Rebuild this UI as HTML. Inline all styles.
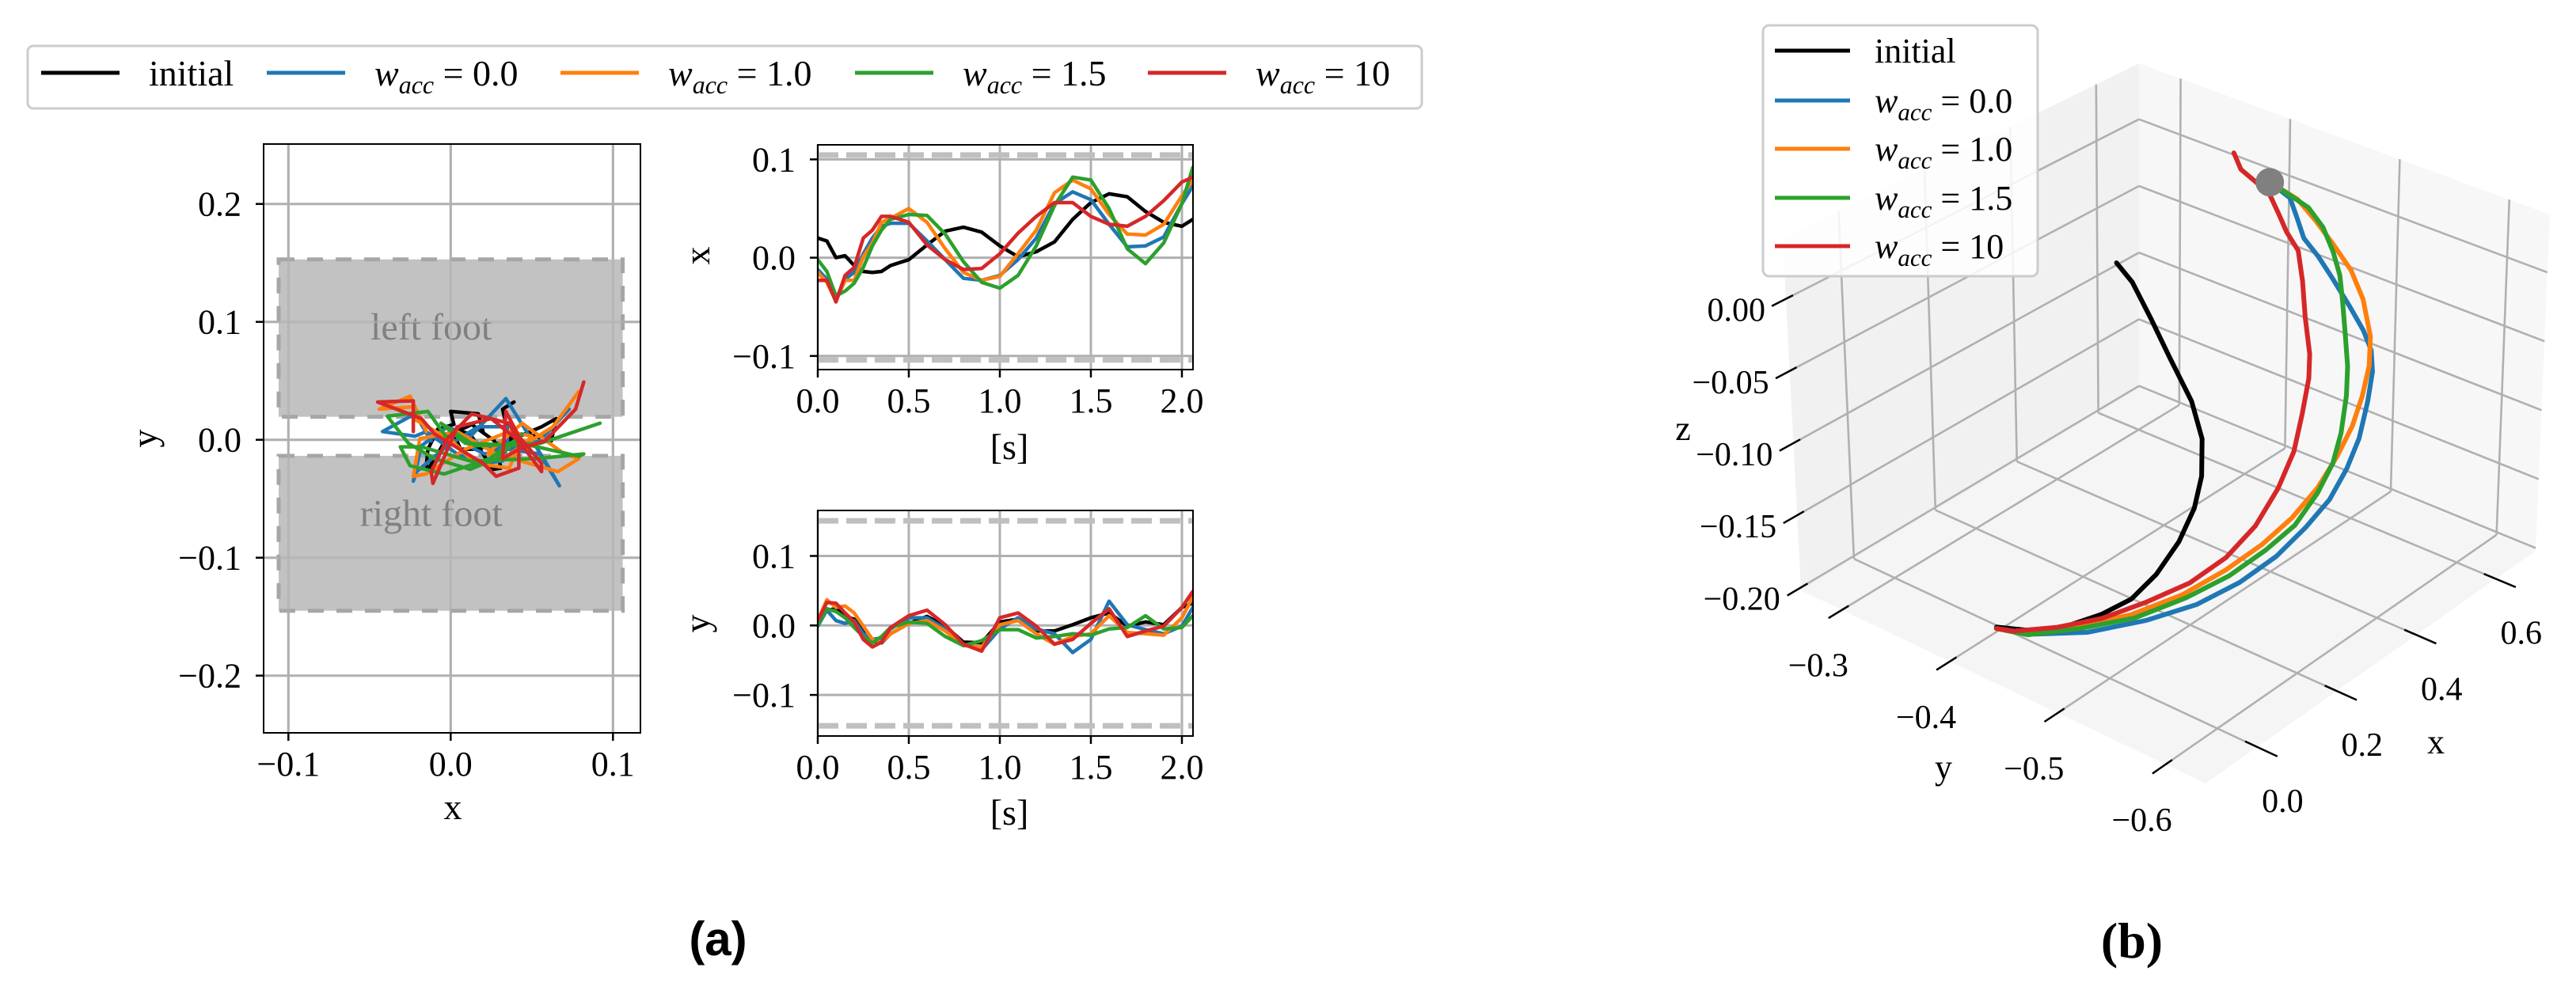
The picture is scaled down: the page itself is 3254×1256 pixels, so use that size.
<!DOCTYPE html>
<html><head><meta charset="utf-8"><title>Trajectories figure</title>
<style>
html,body{margin:0;padding:0;background:#fff;}
svg{display:block;font-family:"Liberation Serif",serif;}
</style></head>
<body>
<svg id="fig" xmlns="http://www.w3.org/2000/svg" width="3254" height="1256" viewBox="0 0 3254 1256">
<rect x="0" y="0" width="3254" height="1256" fill="#fff"/>
<g id="gA"></g>
<g id="gB"></g>
</svg>
<script>
// ---------- data: time series ----------
const tVals = [0,0.05,0.1,0.15,0.2,0.25,0.3,0.35,0.4,0.5,0.6,0.7,0.8,0.9,1.0,1.1,1.2,1.3,1.4,1.5,1.6,1.7,1.8,1.9,2.0,2.06];
const xInitial = [0.020,0.017,0.000,0.002,-0.008,-0.014,-0.015,-0.014,-0.008,-0.002,0.013,0.027,0.031,0.026,0.012,0.001,0.006,0.016,0.039,0.056,0.065,0.062,0.047,0.036,0.032,0.039];
const xW00 = [-0.012,-0.022,-0.042,-0.022,-0.015,0.004,0.020,0.032,0.035,0.035,0.017,-0.002,-0.021,-0.023,-0.018,-0.002,0.020,0.055,0.067,0.059,0.034,0.011,0.012,0.021,0.055,0.073];
const xW10 = [-0.015,-0.025,-0.044,-0.023,-0.023,0.001,0.015,0.036,0.040,0.050,0.036,0.009,-0.015,-0.023,-0.019,0.004,0.028,0.066,0.079,0.070,0.044,0.024,0.023,0.034,0.063,0.079];
const xW15 = [-0.002,-0.014,-0.039,-0.034,-0.026,-0.010,0.012,0.028,0.039,0.044,0.043,0.024,-0.004,-0.025,-0.031,-0.018,0.012,0.053,0.082,0.079,0.050,0.009,-0.006,0.015,0.055,0.092];
const xW100 = [-0.023,-0.023,-0.045,-0.018,-0.010,0.020,0.028,0.042,0.042,0.036,0.013,-0.002,-0.012,-0.011,0.004,0.025,0.042,0.056,0.056,0.042,0.034,0.032,0.042,0.058,0.077,0.082];
const yInitial = [0.007,0.022,0.024,0.013,0.009,-0.008,-0.022,-0.025,-0.012,0.003,0.013,-0.001,-0.024,-0.025,0.005,0.009,-0.008,-0.008,0.001,0.011,0.018,-0.001,0.005,0.001,0.026,0.032];
const yW00 = [-0.001,0.022,0.007,0.003,0.007,-0.012,-0.020,-0.018,-0.005,0.011,0.011,-0.005,-0.027,-0.035,-0.005,0.011,-0.005,-0.012,-0.039,-0.020,0.035,0.001,-0.006,-0.012,-0.001,0.026];
const yW10 = [0.007,0.037,0.026,0.028,0.018,-0.001,-0.020,-0.024,-0.012,0.003,0.007,-0.008,-0.029,-0.031,0.001,0.007,-0.012,-0.027,-0.016,-0.012,0.014,-0.010,-0.012,-0.014,0.011,0.041];
const yW15 = [0.001,0.024,0.020,0.011,-0.003,-0.016,-0.025,-0.016,-0.003,0.005,0.003,-0.016,-0.029,-0.022,-0.006,-0.006,-0.018,-0.016,-0.012,-0.014,-0.005,-0.003,0.014,-0.005,-0.003,0.014];
const yW100 = [0.007,0.033,0.032,0.018,0.005,-0.020,-0.031,-0.024,-0.003,0.014,0.022,0.001,-0.027,-0.037,0.011,0.018,-0.001,-0.027,-0.020,0.003,0.024,-0.016,-0.008,-0.001,0.026,0.049];
const xyTicks = [-0.1,0.0,0.1];
const xyYTicks = [-0.2,-0.1,0.0,0.1,0.2];
const tTicks = [0.0,0.5,1.0,1.5,2.0];
const xtYTicks = [-0.1,0.0,0.1];
const ytYTicks = [-0.1,0.0,0.1];
// ---------- data: 3D trajectories ----------
const p3InitialX = [0.301,0.338,0.381,0.426,0.479,0.505,0.504,0.486,0.448,0.391,0.329,0.254,0.164,0.092,-0.004];
const p3InitialY = [-0.396,-0.396,-0.396,-0.396,-0.396,-0.396,-0.396,-0.396,-0.396,-0.396,-0.396,-0.396,-0.396,-0.396,-0.396];
const p3InitialZ = [0.002,-0.018,-0.051,-0.087,-0.128,-0.160,-0.187,-0.207,-0.224,-0.237,-0.243,-0.240,-0.232,-0.222,-0.202];
const p3W00X = [0.664,0.713,0.730,0.748,0.784,0.820,0.864,0.900,0.921,0.926,0.916,0.897,0.868,0.826,0.767,0.693,0.601,0.492,0.364,0.218,0.091,-0.004];
const p3W00Y = [-0.396,-0.396,-0.396,-0.396,-0.396,-0.396,-0.396,-0.396,-0.396,-0.396,-0.396,-0.396,-0.396,-0.396,-0.396,-0.396,-0.396,-0.396,-0.396,-0.396,-0.396,-0.396];
const p3W00Z = [0.000,-0.020,-0.037,-0.056,-0.076,-0.099,-0.128,-0.153,-0.172,-0.189,-0.210,-0.234,-0.251,-0.266,-0.275,-0.282,-0.283,-0.278,-0.265,-0.246,-0.224,-0.203];
const p3W10X = [0.664,0.731,0.776,0.821,0.865,0.897,0.918,0.917,0.902,0.879,0.842,0.795,0.731,0.657,0.565,0.456,0.328,0.182,0.036,-0.004];
const p3W10Y = [-0.396,-0.396,-0.396,-0.396,-0.396,-0.396,-0.396,-0.396,-0.396,-0.396,-0.396,-0.396,-0.396,-0.396,-0.396,-0.396,-0.396,-0.396,-0.396,-0.396];
const p3W10Z = [0.000,-0.024,-0.048,-0.074,-0.101,-0.129,-0.161,-0.183,-0.203,-0.221,-0.237,-0.251,-0.261,-0.266,-0.267,-0.264,-0.254,-0.236,-0.212,-0.203];
const p3W15X = [0.664,0.713,0.758,0.794,0.820,0.838,0.846,0.854,0.863,0.862,0.851,0.832,0.795,0.739,0.666,0.574,0.465,0.337,0.200,0.072,-0.004];
const p3W15Y = [-0.396,-0.396,-0.396,-0.396,-0.396,-0.396,-0.396,-0.396,-0.396,-0.396,-0.396,-0.396,-0.396,-0.396,-0.396,-0.396,-0.396,-0.396,-0.396,-0.396,-0.396];
const p3W15Z = [0.000,-0.018,-0.035,-0.056,-0.079,-0.100,-0.120,-0.144,-0.173,-0.195,-0.221,-0.240,-0.255,-0.268,-0.272,-0.273,-0.268,-0.258,-0.240,-0.221,-0.203];
const p3W100X = [0.578,0.595,0.628,0.664,0.685,0.706,0.735,0.747,0.755,0.768,0.767,0.752,0.733,0.695,0.639,0.566,0.474,0.364,0.255,0.145,0.036,-0.004];
const p3W100Y = [-0.396,-0.396,-0.396,-0.396,-0.396,-0.396,-0.396,-0.396,-0.396,-0.396,-0.396,-0.396,-0.396,-0.396,-0.396,-0.396,-0.396,-0.396,-0.396,-0.396,-0.396,-0.396];
const p3W100Z = [0.036,0.021,0.007,-0.009,-0.026,-0.044,-0.063,-0.088,-0.116,-0.146,-0.164,-0.188,-0.212,-0.232,-0.249,-0.258,-0.259,-0.252,-0.243,-0.229,-0.212,-0.203];
const goalPoint = [0.664,-0.396,0.000];
const x3Ticks = [0.0,0.2,0.4,0.6];
const y3Ticks = [-0.3,-0.4,-0.5,-0.6];
const z3Ticks = [0.00,-0.05,-0.10,-0.15,-0.20];

const NS = "http://www.w3.org/2000/svg";
const COLORS = ["#000000","#1f77b4","#ff7f0e","#2ca02c","#d62728"];
const SERIES = ["initial","w-0-0","w-1-0","w-1-5","w-10"];
function el(tag, attrs, parent){
  const e = document.createElementNS(NS, tag);
  for (const k in attrs) e.setAttribute(k, attrs[k]);
  parent.appendChild(e);
  return e;
}
function fmt(v, d){ const s = Math.abs(v).toFixed(d); return (v < -1e-9 ? "\u2212" : "") + s; }
const gA = document.getElementById("gA");
const gB = document.getElementById("gB");

// ---------- legend (top) ----------
const legTop = el("g", {}, gA);


el("rect", {x:35, y:58, width:1761, height:79, rx:7, fill:"#fff", stroke:"#cccccc", "stroke-width":3}, legTop);
const legX = [52, 337, 708, 1080, 1450];
const legLabels = ["initial","0.0","1.0","1.5","10"];
for (let i=0;i<5;i++){
  const g = el("g", {}, legTop);
  
  
  el("line", {x1:legX[i], y1:92, x2:legX[i]+99, y2:92, stroke:COLORS[i], "stroke-width":5}, g);
  const tx = el("text", {x:legX[i]+136, y:108, "font-size":46}, g);
  if (i===0) tx.textContent = "initial";
  else tx.innerHTML = '<tspan font-style="italic">w</tspan><tspan font-style="italic" font-size="32" dy="10">acc</tspan><tspan dy="-10"> = ' + legLabels[i] + '</tspan>';
}

// ---------- generic 2D axes ----------
function axes2D(g, box, sx, sy, xt, yt, xdec, ydec, name){
  const frame = el("g", {}, g);
  
  
  xt.forEach(v => el("line", {x1:sx(v), y1:box.t, x2:sx(v), y2:box.b, stroke:"#b0b0b0", "stroke-width":3}, frame));
  yt.forEach(v => el("line", {x1:box.l, y1:sy(v), x2:box.r, y2:sy(v), stroke:"#b0b0b0", "stroke-width":3}, frame));
  const ticks = el("g", {}, g);
  
  
  xt.forEach(v => {
    el("line", {x1:sx(v), y1:box.b, x2:sx(v), y2:box.b+10, stroke:"#000", "stroke-width":2.5}, ticks);
    const t = el("text", {x:sx(v), y:box.b+54, "font-size":44, "text-anchor":"middle"}, ticks);
    t.textContent = fmt(v, xdec);
  });
  yt.forEach(v => {
    el("line", {x1:box.l-10, y1:sy(v), x2:box.l, y2:sy(v), stroke:"#000", "stroke-width":2.5}, ticks);
    const t = el("text", {x:box.l-28, y:sy(v)+15, "font-size":44, "text-anchor":"end"}, ticks);
    t.textContent = fmt(v, ydec);
  });
}
function drawFrame(g, box, name){
  const f = el("rect", {x:box.l, y:box.t, width:box.r-box.l, height:box.b-box.t, fill:"none", stroke:"#000", "stroke-width":2}, g);
  
  
}
function polyline(g, xs, ys, color, w, name, clip){
  const pts = xs.map((v,i)=> xs[i].toFixed(1)+","+ys[i].toFixed(1)).join(" ");
  const p = el("polyline", {points:pts, fill:"none", stroke:color, "stroke-width":w, "stroke-linejoin":"round", "stroke-linecap":"round"}, g);
  if (clip) p.setAttribute("clip-path", clip);
  
  
  return p;
}
const defs = el("defs", {}, document.getElementById("fig"));

// ---------- xy panel ----------
const boxXY = {l:333, r:809, t:182, b:926};
const sxXY = v => 569.3 + v*2050;
const syXY = v => 555.7 - v*1490;
const gXY = el("g", {}, gA);


const feet = [{name:"left-foot-region", y0:0.0195, y1:0.153, label:"left foot", ly:0.095},
              {name:"right-foot-region", y0:-0.145, y1:-0.0136, label:"right foot", ly:-0.063}];
axes2D(gXY, boxXY, sxXY, syXY, xyTicks, xyYTicks, 1, 1, "xy-plot");
feet.forEach(f => {
  const r = el("rect", {x:sxXY(-0.106), y:syXY(f.y1), width:sxXY(0.106)-sxXY(-0.106), height:syXY(f.y0)-syXY(f.y1), fill:"#bfbfbf", "fill-opacity":0.95, stroke:"#a6a6a6", "stroke-width":5, "stroke-dasharray":"20 16"}, gXY);
  
  
  const t = el("text", {x:sxXY(-0.012), y:syXY(f.ly)+15, "font-size":48, fill:"#808080", "text-anchor":"middle"}, gXY);
  
  
  t.textContent = f.label;
});
// re-draw gridlines faintly over feet (matplotlib draws grid below patches; keep visible lines)
[ -0.1, 0.0, 0.1 ].forEach(v => el("line", {x1:sxXY(v), y1:boxXY.t, x2:sxXY(v), y2:boxXY.b, stroke:"#b0b0b0", "stroke-width":3, "stroke-opacity":0.6}, gXY));
[ -0.1, 0.0, 0.1 ].forEach(v => el("line", {x1:boxXY.l, y1:syXY(v), x2:boxXY.r, y2:syXY(v), stroke:"#b0b0b0", "stroke-width":3, "stroke-opacity":0.6}, gXY));
const xsAll = [xInitial, xW00, xW10, xW15, xW100];
const ysAll = [yInitial, yW00, yW10, yW15, yW100];
for (let i=0;i<5;i++){
  polyline(gXY, xsAll[i].map(sxXY), ysAll[i].map(syXY), COLORS[i], 4.5, "xy-trajectory-" + SERIES[i]);
}
drawFrame(gXY, boxXY, "xy-plot");
const xlab = el("text", {x:572, y:1035, "font-size":46, "text-anchor":"middle"}, gXY);


xlab.textContent = "x";
const ylab = el("text", {x:0, y:0, "font-size":46, "text-anchor":"middle", transform:"translate(198,554) rotate(-90)"}, gXY);


ylab.textContent = "y";

// ---------- x(t) panel ----------
function timePanel(box, syF, yt, bound1, bound2, ytitle, name, titleY, sTitleY){
  const sx = v => 1033 + v*230;
  const g = el("g", {}, gA);
  
  
  const cid = name + "-clip";
  const cp = el("clipPath", {id:cid}, defs);
  el("rect", {x:box.l, y:box.t, width:box.r-box.l, height:box.b-box.t}, cp);
  axes2D(g, box, sx, syF, tTicks, yt, 1, 1, name);
  [bound1, bound2].forEach((b, j) => {
    const l = el("line", {x1:box.l, y1:syF(b), x2:box.r, y2:syF(b), stroke:"#bfbfbf", "stroke-width":7, "stroke-dasharray":"26 10"}, g);
    
    
  });
  const data = name === "x-time-plot" ? xsAll : ysAll;
  for (let i=0;i<5;i++){
    polyline(g, tVals.map(sx), data[i].map(syF), COLORS[i], 4.5, name + "-" + SERIES[i], "url(#"+cid+")");
  }
  drawFrame(g, box, name);
  const st = el("text", {x:1275, y:sTitleY, "font-size":46, "text-anchor":"middle"}, g);
  
  
  st.textContent = "[s]";
  const yt2 = el("text", {x:0, y:0, "font-size":46, "text-anchor":"middle", transform:"translate(896,"+titleY+") rotate(-90)"}, g);
  
  
  yt2.textContent = ytitle;
}
timePanel({l:1033, r:1507, t:183, b:467}, v => 325.6 - v*1242, xtYTicks, 0.1044, -0.104, "x", "x-time-plot", 323, 580);
timePanel({l:1033, r:1507, t:645, b:930}, v => 790.3 - v*878, ytYTicks, 0.1506, -0.1445, "y", "y-time-plot", 788, 1042);

const capA = el("text", {x:907, y:1207, "font-size":60, "font-weight":"bold", "text-anchor":"middle", "font-family":"Liberation Sans, sans-serif"}, gA);


capA.textContent = "(a)";

// ---------- 3D panel ----------
const X3 = [-0.13, 0.70], Y3 = [-0.637, -0.262], Z3 = [-0.202, 0.042];
const C = { // [a][b] bottom / top
  b00:[2786,990], b10:[3203,696], b01:[2275,746], b11:[2702,491],
  t00:[2781,531], t10:[3221,271], t01:[2252,301], t11:[2702,80]
};
function projABC(a,b,c){
  const out=[0,0];
  for (let k=0;k<2;k++){
    const bot = C.b00[k]*(1-a)*(1-b) + C.b10[k]*a*(1-b) + C.b01[k]*(1-a)*b + C.b11[k]*a*b;
    const top = C.t00[k]*(1-a)*(1-b) + C.t10[k]*a*(1-b) + C.t01[k]*(1-a)*b + C.t11[k]*a*b;
    out[k] = bot*(1-c) + top*c;
  }
  return out;
}
const ax = x => (x-X3[0])/(X3[1]-X3[0]);
const by = y => (y-Y3[0])/(Y3[1]-Y3[0]);
const cz = z => (z-Z3[0])/(Z3[1]-Z3[0]);
const proj = (x,y,z) => projABC(ax(x), by(y), cz(z));
function path3(g, pts, attrs){
  const d = pts.map((p,i)=>(i?"L":"M")+p[0].toFixed(1)+" "+p[1].toFixed(1)).join(" ");
  return el("path", Object.assign({d:d}, attrs), g);
}
const panes = el("g", {}, gB);


const floor = path3(panes, [projABC(0,0,0),projABC(1,0,0),projABC(1,1,0),projABC(0,1,0)], {fill:"#f5f5f5", stroke:"none"});


const paneY = path3(panes, [projABC(0,1,0),projABC(1,1,0),projABC(1,1,1),projABC(0,1,1)], {fill:"#f1f1f1", stroke:"none"});


const paneX = path3(panes, [projABC(1,0,0),projABC(1,1,0),projABC(1,1,1),projABC(1,0,1)], {fill:"#f7f7f7", stroke:"none"});


const grid3 = el("g", {stroke:"#b0b0b0", "stroke-width":2.6, fill:"none"}, gB);


x3Ticks.forEach(v => { const a=ax(v);
  path3(grid3, [projABC(a,0,0),projABC(a,1,0)], {});
  path3(grid3, [projABC(a,1,0),projABC(a,1,1)], {}); });
y3Ticks.forEach(v => { const b=by(v);
  path3(grid3, [projABC(0,b,0),projABC(1,b,0)], {});
  path3(grid3, [projABC(1,b,0),projABC(1,b,1)], {}); });
z3Ticks.forEach(v => { const c=cz(v);
  path3(grid3, [projABC(0,1,c),projABC(1,1,c)], {});
  path3(grid3, [projABC(1,0,c),projABC(1,1,c)], {}); });
// tick marks and labels
const tk3 = el("g", {}, gB);


z3Ticks.forEach(v => { const c=cz(v);
  path3(tk3, [projABC(0.02,1,c), projABC(-0.04,1,c)], {stroke:"#000", "stroke-width":2.5});
  const p = projABC(0,1,c);
  const t = el("text", {x:p[0]-26, y:p[1]+28, "font-size":42, "text-anchor":"end"}, tk3);
  t.textContent = fmt(v, 2);
});
y3Ticks.forEach(v => { const b=by(v);
  path3(tk3, [projABC(0.02,b,0), projABC(-0.04,b,0)], {stroke:"#000", "stroke-width":2.5});
  const p = projABC(0,b,0);
  const t = el("text", {x:p[0]-30, y:p[1]+84, "font-size":42, "text-anchor":"middle"}, tk3);
  t.textContent = fmt(v, 1);
});
x3Ticks.forEach(v => { const a=ax(v);
  path3(tk3, [projABC(a,0.03,0), projABC(a,-0.05,0)], {stroke:"#000", "stroke-width":2.5});
  const p = projABC(a,0,0);
  const t = el("text", {x:p[0]+32, y:p[1]+82, "font-size":42, "text-anchor":"middle"}, tk3);
  t.textContent = fmt(v, 1);
});
[["z",2126,556,"z-axis-title"],["y",2455,984,"y-axis-title-3d"],["x",3077,952,"x-axis-title-3d"]].forEach(a => {
  const t = el("text", {x:a[1], y:a[2], "font-size":44, "text-anchor":"middle"}, gB);
  
  
  t.textContent = a[0];
});
// trajectories
const p3X = [p3InitialX, p3W00X, p3W10X, p3W15X, p3W100X];
const p3Y = [p3InitialY, p3W00Y, p3W10Y, p3W15Y, p3W100Y];
const p3Z = [p3InitialZ, p3W00Z, p3W10Z, p3W15Z, p3W100Z];
const order3 = [0,1,2,3,4];
order3.forEach(i => {
  const pts = p3X[i].map((v,k) => proj(p3X[i][k], p3Y[i][k], p3Z[i][k]));
  const p = path3(gB, pts, {fill:"none", stroke:COLORS[i], "stroke-width":6, "stroke-linejoin":"round", "stroke-linecap":"round"});
  
  
});
const gp = proj(goalPoint[0], goalPoint[1], goalPoint[2]);
const dot = el("circle", {cx:gp[0], cy:gp[1], r:18, fill:"#808080"}, gB);


// 3D legend
const leg3 = el("g", {}, gB);


el("rect", {x:2227, y:32, width:347, height:317, rx:8, fill:"#fff", "fill-opacity":0.85, stroke:"#cccccc", "stroke-width":3}, leg3);
const leg3Y = [64,127,188,250,311];
for (let i=0;i<5;i++){
  const g = el("g", {}, leg3);
  
  
  el("line", {x1:2242, y1:leg3Y[i], x2:2337, y2:leg3Y[i], stroke:COLORS[i], "stroke-width":5}, g);
  const tx = el("text", {x:2368, y:leg3Y[i]+15, "font-size":44}, g);
  if (i===0) tx.textContent = "initial";
  else tx.innerHTML = '<tspan font-style="italic">w</tspan><tspan font-style="italic" font-size="31" dy="10">acc</tspan><tspan dy="-10"> = ' + legLabels[i] + '</tspan>';
}
const capB = el("text", {x:2693, y:1210, "font-size":64, "font-weight":"bold", "text-anchor":"middle"}, gB);


capB.textContent = "(b)";
</script>
</body></html>
